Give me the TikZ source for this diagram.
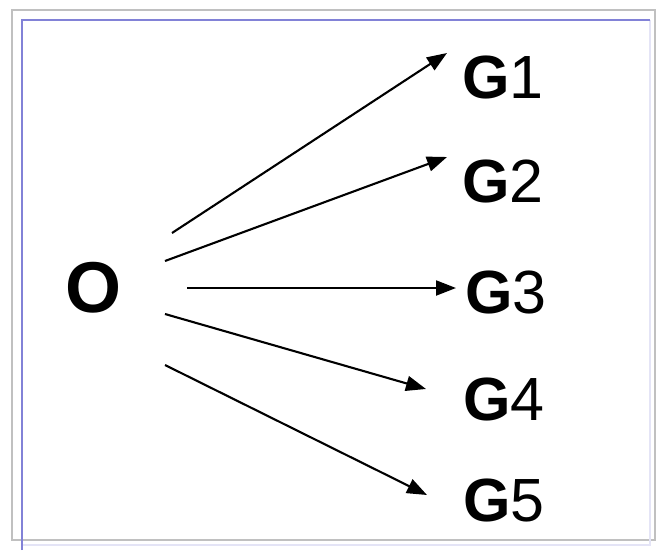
\documentclass[tikz,border=0pt]{standalone}
\usepackage{fontspec}
\setmainfont{Liberation Sans}
\usetikzlibrary{arrows.meta}
\definecolor{framegray}{RGB}{192,192,192}
\definecolor{frameblue}{RGB}{130,130,215}
\definecolor{faintblue}{RGB}{228,228,246}
\begin{document}
\begin{tikzpicture}[x=1pt,y=-1pt,
  glabel/.style={anchor=west,inner sep=0pt,font=\fontsize{61}{61}\selectfont},
  olabel/.style={inner sep=0pt,font=\fontsize{72}{72}\selectfont\bfseries},
  arr/.style={line width=2.1pt,-{Triangle[length=20pt,width=15pt]}}]
\useasboundingbox (0,0) rectangle (657,550);
\fill[white] (0,0) rectangle (657,550);
% frames
\draw[framegray,line width=2.5pt] (12,10) rectangle (655,540);
\draw[faintblue,line width=1.5pt] (650,20) -- (650,545) -- (22,545);
\draw[frameblue,line width=2.5pt] (22,550) -- (22,20) -- (650,20);
% nodes
\node[olabel] (O) at (94,288) {O};
\node[glabel] (G1) at (462,77) {\textbf{G}1};
\node[glabel] (G2) at (462,181) {\textbf{G}2};
\node[glabel] (G3) at (465,292) {\textbf{G}3};
\node[glabel] (G4) at (463,399) {\textbf{G}4};
\node[glabel] (G5) at (463,500) {\textbf{G}5};
% connector ends
\coordinate (s1) at (172,233); \coordinate (t1) at (447,53);
\coordinate (s2) at (165,261); \coordinate (t2) at (447,157);
\coordinate (s3) at (187,288); \coordinate (t3) at (456,288);
\coordinate (s4) at (165,314); \coordinate (t4) at (426,389);
\coordinate (s5) at (165,365); \coordinate (t5) at (427,495);
\draw[arr] (s1) -- (t1);
\draw[arr] (s2) -- (t2);
\draw[arr] (s3) -- (t3);
\draw[arr] (s4) -- (t4);
\draw[arr] (s5) -- (t5);
\end{tikzpicture}
\end{document}
